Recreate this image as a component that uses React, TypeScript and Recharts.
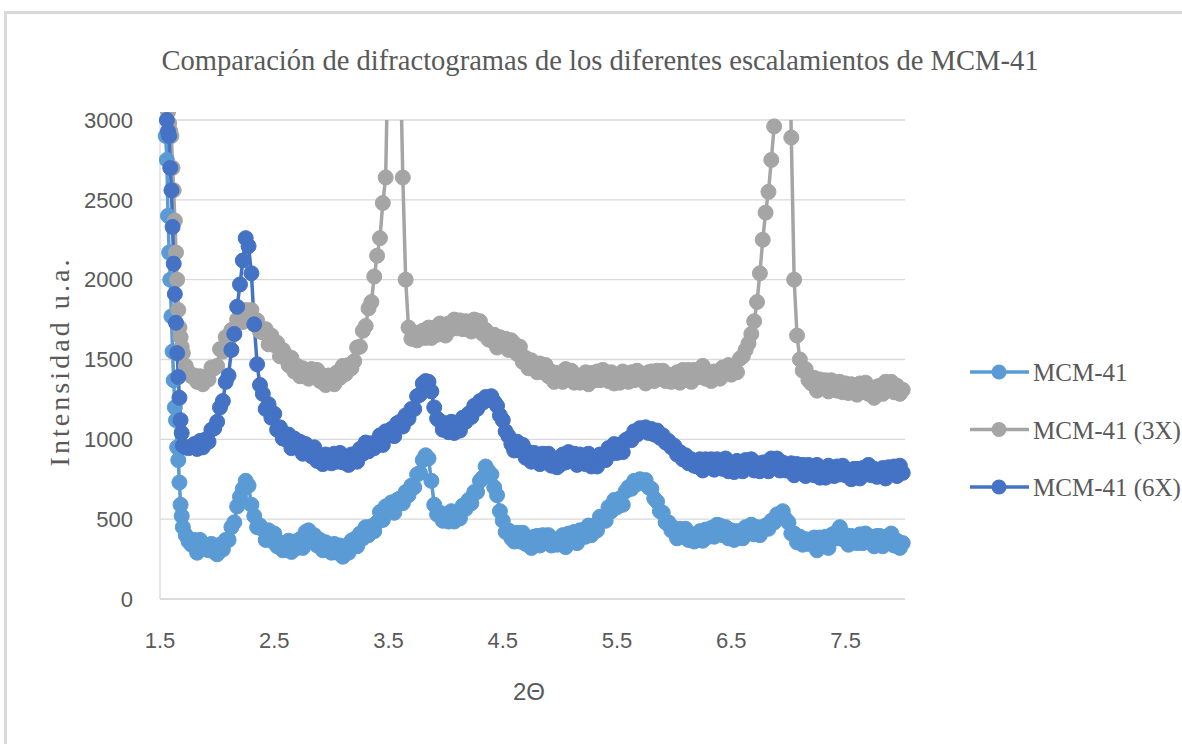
import React from "react";
import { LineChart, Line, XAxis, YAxis, CartesianGrid, Legend } from "recharts";

// 2θ positions: 0.01 steps on the steep start, 0.025 steps afterwards
const theta = [
  1.55, 1.56, 1.57, 1.58, 1.59, 1.6, 1.61, 1.62,
  1.63, 1.64, 1.65, 1.66, 1.67, 1.68, 1.69, 1.7,
  1.725, 1.75, 1.775,
  1.8, 1.825, 1.85, 1.875, 1.9, 1.925, 1.95, 1.975,
  2.0, 2.025, 2.05, 2.075, 2.1, 2.125, 2.15, 2.175,
  2.2, 2.225, 2.25, 2.275, 2.3, 2.325, 2.35, 2.375,
  2.4, 2.425, 2.45, 2.475, 2.5, 2.525, 2.55, 2.575,
  2.6, 2.625, 2.65, 2.675, 2.7, 2.725, 2.75, 2.775,
  2.8, 2.825, 2.85, 2.875, 2.9, 2.925, 2.95, 2.975,
  3.0, 3.025, 3.05, 3.075, 3.1, 3.125, 3.15, 3.175,
  3.2, 3.225, 3.25, 3.275, 3.3, 3.325, 3.35, 3.375,
  3.4, 3.425, 3.45, 3.475, 3.5, 3.525, 3.55, 3.575,
  3.6, 3.625, 3.65, 3.675, 3.7, 3.725, 3.75, 3.775,
  3.8, 3.825, 3.85, 3.875, 3.9, 3.925, 3.95, 3.975,
  4.0, 4.025, 4.05, 4.075, 4.1, 4.125, 4.15, 4.175,
  4.2, 4.225, 4.25, 4.275, 4.3, 4.325, 4.35, 4.375,
  4.4, 4.425, 4.45, 4.475, 4.5, 4.525, 4.55, 4.575,
  4.6, 4.625, 4.65, 4.675, 4.7, 4.725, 4.75, 4.775,
  4.8, 4.825, 4.85, 4.875, 4.9, 4.925, 4.95, 4.975,
  5.0, 5.025, 5.05, 5.075, 5.1, 5.125, 5.15, 5.175,
  5.2, 5.225, 5.25, 5.275, 5.3, 5.325, 5.35, 5.375,
  5.4, 5.425, 5.45, 5.475, 5.5, 5.525, 5.55, 5.575,
  5.6, 5.625, 5.65, 5.675, 5.7, 5.725, 5.75, 5.775,
  5.8, 5.825, 5.85, 5.875, 5.9, 5.925, 5.95, 5.975,
  6.0, 6.025, 6.05, 6.075, 6.1, 6.125, 6.15, 6.175,
  6.2, 6.225, 6.25, 6.275, 6.3, 6.325, 6.35, 6.375,
  6.4, 6.425, 6.45, 6.475, 6.5, 6.525, 6.55, 6.575,
  6.6, 6.625, 6.65, 6.675, 6.7, 6.725, 6.75, 6.775,
  6.8, 6.825, 6.85, 6.875, 6.9, 6.925, 6.95, 6.975,
  7.0, 7.025, 7.05, 7.075, 7.1, 7.125, 7.15, 7.175,
  7.2, 7.225, 7.25, 7.275, 7.3, 7.325, 7.35, 7.375,
  7.4, 7.425, 7.45, 7.475, 7.5, 7.525, 7.55, 7.575,
  7.6, 7.625, 7.65, 7.675, 7.7, 7.725, 7.75, 7.775,
  7.8, 7.825, 7.85, 7.875, 7.9, 7.925, 7.95, 7.975,
  8.0,
];

// MCM-41
const mcm41 = [
  2900, 2750, 2400, 2170, 2000, 1770, 1550, 1370,
  1200, 1120, 950, 870, 730, 590, 520, 450,
  400, 360, 340,
  370, 290, 370, 315, 340, 305, 345, 295,
  280, 340, 310, 370, 370, 450, 480, 580,
  640, 690, 740, 710, 590, 520, 450, 460,
  435, 370, 430, 365, 410, 330, 355, 305,
  310, 365, 295, 360, 320, 375, 320, 420,
  430, 360, 400, 335, 370, 305, 355, 310,
  290, 345, 290, 335, 265, 320, 290, 365,
  375, 330, 410, 380, 450, 400, 455, 425,
  480, 545, 495, 580, 550, 605, 540, 620,
  630, 600, 670, 650, 710, 700, 780, 790,
  870, 900, 880, 740, 590, 530, 540, 490,
  530, 485, 550, 485, 540, 505, 585, 565,
  620, 600, 670, 670, 740, 760, 830, 800,
  780, 700, 650, 550, 490, 420, 430, 380,
  360, 415, 360, 415, 345, 380, 320, 390,
  395, 335, 400, 350, 400, 335, 375, 340,
  360, 400, 325, 410, 380, 420, 350, 430,
  430, 390, 460, 400, 460, 430, 515, 490,
  490, 575, 550, 620, 575, 630, 590, 675,
  700, 690, 740, 720, 750, 730, 745, 700,
  690, 630, 610, 550, 540, 480, 480, 430,
  445, 380, 440, 390, 440, 370, 405, 360,
  370, 425, 365, 435, 390, 445, 390, 465,
  460, 400, 450, 380, 430, 370, 425, 390,
  380, 450, 410, 465, 405, 450, 400, 450,
  460, 440, 490, 480, 530, 520, 550, 500,
  480, 410, 410, 355, 390, 340, 375, 345,
  350, 385, 305, 385, 350, 390, 320, 400,
  410, 380, 450, 375, 400, 340, 395, 360,
  350, 405, 350, 410, 355, 390, 330, 395,
  395, 330, 390, 350, 410, 335, 365, 320,
  350,
];

// MCM-41 (3X)
const mcm41x3 = [
  3300, 3150, 3050, 2980, 2930, 2900, 2700, 2560,
  2370, 2170, 2000, 1810, 1700, 1640, 1580, 1540,
  1460, 1420, 1395,
  1400, 1360, 1395, 1345, 1385, 1375, 1450, 1445,
  1460, 1565, 1550, 1640, 1615, 1685, 1660, 1750,
  1775, 1735, 1810, 1760, 1810, 1730, 1745, 1675,
  1670, 1690, 1595, 1650, 1590, 1605, 1520, 1560,
  1530, 1465, 1510, 1425, 1460, 1395, 1445, 1400,
  1380, 1440, 1390, 1435, 1365, 1400, 1340, 1400,
  1395, 1345, 1420, 1385, 1460, 1410, 1465, 1445,
  1490, 1575, 1580, 1680, 1710, 1820, 1860, 2020,
  2150, 2260, 2480, 2640, 3600, 5000, 5600, 4800,
  3500, 2640, 2000, 1700, 1630, 1665, 1620, 1670,
  1680, 1635, 1700, 1635, 1700, 1655, 1725, 1675,
  1650, 1725, 1690, 1750, 1695, 1745, 1690, 1740,
  1725, 1675, 1750, 1695, 1740, 1660, 1685, 1625,
  1620, 1655, 1575, 1640, 1590, 1630, 1560, 1620,
  1600, 1535, 1580, 1485, 1510, 1445, 1495, 1445,
  1420, 1475, 1420, 1465, 1395, 1425, 1360, 1415,
  1405, 1360, 1440, 1385, 1430, 1355, 1385, 1355,
  1380, 1420, 1345, 1415, 1370, 1425, 1370, 1435,
  1420, 1365, 1420, 1350, 1400, 1355, 1425, 1380,
  1360, 1420, 1370, 1430, 1375, 1410, 1350, 1420,
  1425, 1365, 1430, 1380, 1430, 1365, 1405, 1360,
  1370, 1420, 1355, 1435, 1400, 1435, 1360, 1435,
  1430, 1390, 1460, 1380, 1420, 1365, 1425, 1390,
  1380, 1450, 1410, 1465, 1405, 1455, 1420, 1505,
  1520, 1560, 1600, 1660, 1740, 1860, 2040, 2250,
  2420, 2550, 2750, 2960, 3600, 4600, 5400, 5000,
  3800, 2890, 2000, 1650, 1500, 1430, 1440, 1370,
  1350, 1385, 1305, 1375, 1330, 1370, 1300, 1370,
  1360, 1305, 1360, 1295, 1350, 1290, 1345, 1300,
  1280, 1350, 1310, 1355, 1285, 1320, 1260, 1330,
  1335, 1285, 1360, 1310, 1360, 1295, 1335, 1285,
  1310,
];

// MCM-41 (6X)
const mcm41x6 = [
  3100, 3000, 2930, 2900, 2700, 2560, 2330, 2100,
  1910, 1730, 1540, 1390, 1260, 1120, 1040, 960,
  950, 945, 955,
  970, 940, 990, 950, 1000, 985, 1060, 1070,
  1110, 1200, 1240, 1360, 1400, 1560, 1660, 1830,
  1970, 2120, 2260, 2210, 2040, 1720, 1470, 1340,
  1285, 1190, 1220, 1135, 1160, 1060, 1075, 1005,
  1000, 1030, 945, 1005, 950, 985, 910, 970,
  950, 895, 950, 865, 900, 845, 905, 865,
  850, 910, 860, 915, 855, 890, 840, 905,
  905, 860, 940, 910, 980, 925, 975, 945,
  970, 1025, 965, 1050, 1030, 1065, 1020, 1100,
  1110, 1080, 1150, 1130, 1190, 1190, 1270, 1280,
  1350, 1365, 1360, 1300, 1200, 1130, 1115, 1060,
  1100, 1045, 1110, 1040, 1090, 1055, 1135, 1110,
  1160, 1140, 1210, 1190, 1240, 1230, 1265, 1250,
  1270, 1235, 1210, 1150, 1120, 1050, 1020, 970,
  930, 985, 930, 965, 885, 920, 860, 915,
  905, 845, 910, 860, 910, 835, 865, 825,
  840, 905, 855, 920, 870, 910, 840, 905,
  890, 845, 910, 830, 870, 830, 905, 875,
  870, 945, 910, 970, 915, 965, 920, 995,
  1005, 995, 1050, 1030, 1070, 1050, 1075, 1040,
  1065, 1030, 1055, 1010, 1025, 980, 990, 950,
  960, 905, 920, 875, 900, 850, 875, 835,
  830, 875, 805, 875, 830, 875, 810, 875,
  860, 815, 880, 800, 840, 795, 865, 820,
  800, 870, 830, 875, 805, 850, 800, 855,
  855, 800, 880, 830, 880, 805, 855, 805,
  810, 850, 775, 845, 800, 840, 770, 840,
  820, 775, 840, 760, 800, 760, 835, 790,
  770, 830, 780, 835, 775, 810, 750, 815,
  815, 755, 820, 780, 840, 775, 815, 765,
  770, 820, 755, 825, 780, 830, 770, 835,
  790,
];

const xTicks = [1.5, 2.5, 3.5, 4.5, 5.5, 6.5, 7.5];
const yTicks = [0, 500, 1000, 1500, 2000, 2500, 3000];

const series = [
  { key: "a", name: "MCM-41", color: "#5B9BD5" },
  { key: "b", name: "MCM-41 (3X)", color: "#A5A5A5" },
  { key: "c", name: "MCM-41 (6X)", color: "#4472C4" },
];

const data = theta.map((t, i) => ({
  theta: t,
  a: mcm41[i],
  b: mcm41x3[i],
  c: mcm41x6[i],
}));

const SERIF = "'Liberation Serif', 'Times New Roman', serif";
const SANS = "'Liberation Sans', Arial, sans-serif";
const TEXT = "#595959";
const GRID = "#d9d9d9";

function LegendBox(props: any) {
  const items = props.payload || [];
  return (
    <svg width={230} height={170}>
      {items.map((p: any, i: number) => {
        const cy = 32 + i * 57.5;
        return (
          <g key={p.value}>
            <line x1={8} x2={67} y1={cy} y2={cy} stroke={p.color} strokeWidth={3.5} />
            <circle cx={37} cy={cy} r={7.5} fill={p.color} />
            <text x={71} y={cy + 9} fontFamily={SERIF} fontSize={25} fill={TEXT}>
              {p.value}
            </text>
          </g>
        );
      })}
    </svg>
  );
}

export default function App() {
  return (
    <div
      style={{
        position: "absolute",
        left: 0,
        top: 0,
        width: 1182,
        height: 744,
        overflow: "hidden",
        background: "#fff",
      }}
    >
      {/* chart frame (top and left edges visible) */}
      <div
        style={{
          position: "absolute",
          left: 4,
          top: 11,
          width: 1200,
          height: 760,
          borderTop: `3px solid ${GRID}`,
          borderLeft: `3px solid ${GRID}`,
        }}
      />
      <svg
        width={1182}
        height={100}
        style={{ position: "absolute", left: 0, top: 0, pointerEvents: "none" }}
      >
        <text
          x={600}
          y={70}
          textAnchor="middle"
          fontFamily={SERIF}
          fontSize={30}
          fill={TEXT}
          textLength={877}
          lengthAdjust="spacingAndGlyphs"
        >
          Comparación de difractogramas de los diferentes escalamientos de MCM-41
        </text>
      </svg>
      <div style={{ position: "absolute", left: 0, top: 0 }}>
        <LineChart
          width={1182}
          height={744}
          data={data}
          margin={{ top: 120, right: 277, bottom: 45, left: 0 }}
        >
          <CartesianGrid vertical={false} stroke={GRID} strokeWidth={1.3} />
          <XAxis
            type="number"
            dataKey="theta"
            domain={[1.5, 8.02]}
            ticks={xTicks}
            allowDataOverflow
            height={100}
            tickLine={false}
            tickSize={0}
            tickMargin={33}
            axisLine={{ stroke: GRID, strokeWidth: 1.5 }}
            tick={{ fill: TEXT, fontSize: 22, fontFamily: SANS }}
            label={{
              content: () => (
                <text x={529} y={700} textAnchor="middle" fontFamily={SANS} fontSize={24} fill={TEXT}>
                  2Θ
                </text>
              ),
            }}
          />
          <YAxis
            type="number"
            domain={[0, 3000]}
            ticks={yTicks}
            allowDataOverflow
            width={160}
            tickLine={false}
            tickSize={0}
            tickMargin={27}
            axisLine={{ stroke: GRID, strokeWidth: 1.3 }}
            tick={{ fill: TEXT, fontSize: 22, fontFamily: SANS }}
            label={{
              content: () => (
                <text
                  transform="translate(69,363) rotate(-90)"
                  textAnchor="middle"
                  fontFamily={SERIF}
                  fontSize={28}
                  fill={TEXT}
                  textLength={207}
                  lengthAdjust="spacing"
                >
                  Intensidad u.a.
                </text>
              ),
            }}
          />
          <Legend
            layout="vertical"
            align="center"
            verticalAlign="middle"
            content={<LegendBox />}
            wrapperStyle={{ left: 962, top: 340, width: 230, height: 170 }}
          />
          {series.map((s) => (
            <Line
              key={s.key}
              type="linear"
              dataKey={s.key}
              name={s.name}
              stroke={s.color}
              strokeWidth={3.5}
              dot={{ r: 7.5, fill: s.color, stroke: s.color, strokeWidth: 1, clipDot: false }}
              activeDot={false}
              isAnimationActive={false}
            />
          ))}
        </LineChart>
      </div>
    </div>
  );
}
